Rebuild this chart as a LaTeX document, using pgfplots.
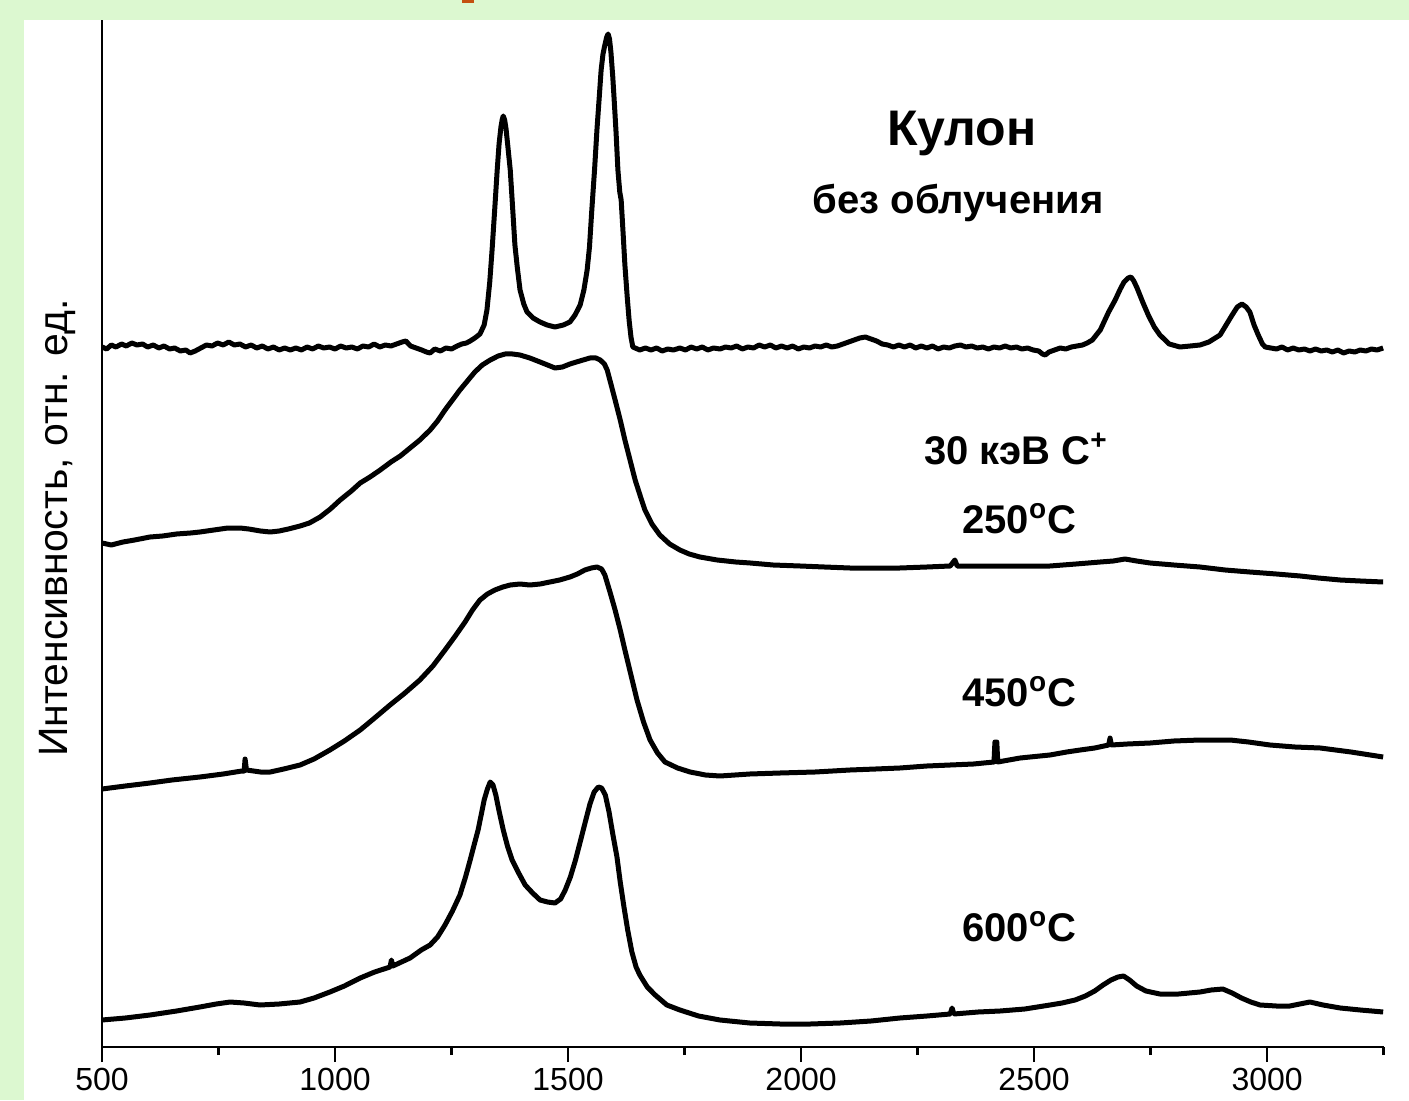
\documentclass[border=0pt]{standalone}
\usepackage{fontspec}
\setmainfont{Liberation Sans}
\usepackage{pgfplots}
\pgfplotsset{compat=1.18}
\definecolor{bggreen}{RGB}{220,248,208}
\definecolor{titleorange}{RGB}{196,80,16}
\tikzset{spec/.style={black, line width=2.5pt, line join=round, mark=none}}
\begin{document}
\begin{tikzpicture}
\fill[bggreen] (0,0) rectangle (704.5pt,550pt);
\fill[white] (12pt,0) rectangle (704.5pt,540pt);
\fill[titleorange] (231pt,548.5pt) rectangle (237pt,550pt);
\begin{axis}[at={(51pt,26.5pt)}, anchor=south west, scale only axis,
  width=640.8pt, height=513.5pt,
  xmin=500, xmax=3250, ymin=0, ymax=1027,
  axis x line*=bottom, axis y line*=left,
  axis line style={-, line width=1.3pt},
  ytick=\empty,
  xtick={500,1000,...,3000}, minor xtick={750,1250,...,3250},
  tick align=outside, major tick length=7.5pt, minor tick length=4pt,
  every tick/.style={black, line width=1.3pt},
  xticklabel style={font=\fontsize{16}{16}\selectfont, yshift=0.5pt},
  /pgf/number format/assume math mode=true, /pgf/number format/1000 sep={},
  clip=false]
% pristine
\addplot[spec] coordinates {
(500,700)(510,698)(520,702)(530,700)(542,703)(552,701)(564,704)(575,702)(587,703)(598,700)
(610,702)(622,699)(633,701)(645,698)(656,699)(668,696)(680,697)(689,694)(700,696)(712,699)
(724,702)(736,701)(748,704)(760,702)(772,705)(784,702)(796,703)(808,700)(820,702)(832,699)
(844,701)(856,698)(868,700)(880,697)(892,699)(904,697)(916,699)(928,697)(940,700)(952,698)
(964,701)(976,699)(988,700)(1000,698)(1012,701)(1024,699)(1036,700)(1048,698)(1060,701)(1072,700)
(1084,703)(1096,700)(1108,702)(1120,701)(1132,703)(1144,705)(1152,706)(1162,701)(1174,699)(1186,697)
(1196,695)(1204,694)(1214,698)(1226,696)(1238,699)(1250,698)(1262,701)(1272,703)(1282,704)(1290,706)
(1300,709)(1311,713)(1320,722)(1326,737)(1332,765)(1337,797)(1343,840)(1348,877)(1352,903)(1356,920)
(1359,928)(1361,931)(1364,927)(1367,918)(1371,900)(1376,877)(1381,840)(1386,802)(1391,780)(1397,757)
(1405,743)(1412,735)(1425,729)(1440,725)(1455,722)(1472,720)(1490,722)(1504,725)(1515,732)(1526,742)
(1534,757)(1541,777)(1546,800)(1551,837)(1557,878)(1562,917)(1567,950)(1571,977)(1575,993)(1579,1002)
(1583,1010)(1586,1013)(1589,1008)(1592,995)(1596,970)(1599,947)(1603,915)(1607,877)(1611,855)(1614,847)
(1618,815)(1622,782)(1627,750)(1631,727)(1635,710)(1639,700)
(1654,697)(1666,699)(1678,697)(1690,699)(1702,696)(1714,698)(1726,697)(1740,699)(1752,697)(1764,700)
(1776,698)(1788,700)(1800,697)(1812,699)(1826,698)(1838,700)(1850,699)(1862,701)(1874,698)(1886,700)
(1898,699)(1910,702)(1922,700)(1934,702)(1946,699)(1958,701)(1970,699)(1982,701)(1994,698)(2006,700)
(2018,699)(2030,701)(2042,700)(2054,702)(2066,700)(2078,701)(2090,703)(2102,705)(2114,707)(2126,709)
(2138,710)(2150,708)(2162,706)(2174,703)(2186,702)(2198,700)(2210,702)(2222,700)(2234,702)(2246,699)
(2258,701)(2270,699)(2282,701)(2294,698)(2306,700)(2318,699)(2330,701)(2342,702)(2354,700)(2366,701)
(2378,699)(2390,700)(2402,698)(2414,700)(2426,699)(2438,701)(2450,699)(2462,700)(2474,698)(2486,699)
(2498,697)(2510,696)(2518,693)(2524,692)(2532,695)(2544,697)(2556,699)(2568,698)(2580,700)(2592,701)
(2604,702)(2614,704)(2625,707)(2642,717)
(2660,735)(2674,747)(2685,758)(2693,765)(2702,769)(2708,770)(2714,766)(2721,759)(2733,745)(2745,732)(2758,720)
(2770,712)(2790,703)(2813,700)(2835,701)(2856,702)(2875,705)(2899,712)(2912,722)(2925,732)(2936,740)
(2946,743)(2955,740)(2963,735)(2972,722)(2981,712)(2990,703)(2996,700)
(3008,699)(3020,698)(3032,700)(3044,697)(3056,699)(3068,697)(3080,698)(3092,696)(3104,698)(3116,696)
(3128,697)(3140,695)(3152,697)(3164,694)(3176,696)(3188,695)(3200,697)(3212,696)(3224,698)(3236,697)(3249,699)};
% 250 C
\addplot[spec] coordinates {
(500,504)(520,502)(545,505)(570,507)(603,510)(630,511)(660,513)(690,514)(710,515)(740,517)
(770,519)(796,519)(815,518)(840,516)(861,515)(880,516)(900,518)(925,521)(945,524)(968,530)
(990,538)(1011,547)(1035,556)(1054,564)(1075,570)(1097,577)(1120,585)(1140,591)(1161,599)(1182,607)
(1204,617)(1220,626)(1236,637)(1252,647)(1268,657)(1284,666)(1300,675)(1316,682)(1333,687)(1350,691)
(1365,693)(1381,693)(1397,692)(1418,689)(1440,685)(1456,682)(1472,679)(1488,680)(1504,683)(1525,686)
(1547,689)(1560,689)(1569,687)(1578,683)(1584,677)(1592,663)(1601,647)(1612,627)(1622,607)(1633,587)
(1644,567)(1655,551)(1665,537)(1680,523)(1697,512)(1718,503)(1740,497)(1760,493)(1783,490)(1820,487)
(1860,485)(1891,484)(1940,482)(1998,481)(2050,480)(2105,479)(2160,479)(2212,479)(2270,480)(2320,481)
(2330,487)(2335,481)(2380,481)(2427,481)(2480,481)(2534,481)(2590,483)(2642,485)(2670,486)(2695,488)
(2720,486)(2749,484)(2800,482)(2856,480)(2910,477)(2963,475)(3020,473)(3071,471)(3110,469)(3157,467)
(3200,466)(3249,465)};
% 450 C
\addplot[spec] coordinates {
(500,258)(550,261)(603,264)(650,267)(710,270)(760,273)(800,276)(805,276)(807,288)(810,277)
(840,275)(861,275)(890,278)(925,282)(955,288)(989,297)(1020,306)(1054,317)(1085,329)(1118,342)
(1150,354)(1182,367)(1210,381)(1236,397)(1258,411)(1279,425)(1295,437)(1311,447)(1327,453)(1343,457)
(1360,460)(1376,462)(1397,463)(1418,462)(1440,463)(1461,465)(1482,467)(1504,470)(1520,473)(1536,477)
(1550,479)(1562,480)(1572,478)(1579,472)(1590,455)(1601,437)(1612,417)(1622,397)(1635,372)(1648,347)
(1662,325)(1676,307)(1692,294)(1708,285)(1735,279)(1762,275)(1795,272)(1826,271)(1890,273)(1955,274)
(2030,275)(2105,277)(2160,278)(2212,279)(2270,281)(2320,282)(2370,283)(2414,285)(2416,305)(2420,305)
(2422,285)(2470,289)(2534,292)(2570,295)(2599,297)(2630,299)(2660,302)(2663,309)(2666,302)(2700,303)
(2749,304)(2800,306)(2856,307)(2921,307)(2960,305)(3006,302)(3060,300)(3114,299)(3180,295)(3249,290)};
% 600 C
\addplot[spec] coordinates {
(500,27)(550,29)(603,32)(660,36)(710,40)(745,43)(775,45)(805,44)(839,42)(880,43)
(925,45)(955,49)(989,55)(1020,61)(1054,69)(1085,75)(1118,80)(1121,87)(1124,81)(1161,89)
(1185,97)(1204,102)(1220,110)(1236,122)(1252,136)(1268,152)(1280,170)(1290,187)(1299,203)(1307,217)
(1314,233)(1320,247)(1327,258)(1333,265)(1339,262)(1345,252)(1352,236)(1361,217)(1370,201)(1380,187)
(1394,174)(1408,162)(1424,154)(1440,147)(1456,145)(1472,144)(1484,148)(1494,157)(1505,170)(1516,187)
(1526,205)(1537,225)(1547,243)(1556,255)(1565,260)(1572,259)(1580,252)(1588,235)(1596,213)(1605,190)
(1612,165)(1620,140)(1628,117)(1637,95)(1646,80)(1654,72)(1670,60)(1687,52)(1712,42)(1740,37)(1780,31)
(1826,27)(1890,24)(1955,23)(2020,23)(2084,24)(2150,26)(2212,29)(2270,31)(2320,33)(2324,39)
(2328,33)(2380,35)(2427,36)(2480,38)(2534,42)(2560,44)(2588,47)(2610,51)(2630,56)(2648,62)
(2665,67)(2680,70)(2692,71)(2705,67)(2720,61)(2740,56)(2770,53)(2810,53)(2856,55)(2880,57)(2905,58)
(2925,54)(2945,49)(2965,45)(2985,42)(3020,41)(3049,41)(3070,43)(3092,45)(3120,42)(3157,39)
(3200,37)(3249,35)};
\node[font=\bfseries\fontsize{25}{25}\selectfont] at (axis cs:2345,914) {Кулон};
\node[font=\bfseries\fontsize{20}{20}\selectfont] at (axis cs:2337,844) {без облучения};
\node[font=\bfseries\fontsize{20}{20}\selectfont] at (axis cs:2461,598) {30 кэВ C\textsuperscript{+}};
\node[font=\bfseries\fontsize{20}{20}\selectfont] at (axis cs:2468,528) {250\textsuperscript{o}C};
\node[font=\bfseries\fontsize{20}{20}\selectfont] at (axis cs:2468,355) {450\textsuperscript{o}C};
\node[font=\bfseries\fontsize{20}{20}\selectfont] at (axis cs:2468,120) {600\textsuperscript{o}C};
\end{axis}
\node[rotate=90, font=\fontsize{20.5}{20.5}\selectfont] at (28.5pt,286pt) {Интенсивность, отн. ед.};
\pgfresetboundingbox
\path (0,0) rectangle (704.5pt,550pt);
\end{tikzpicture}
\end{document}
